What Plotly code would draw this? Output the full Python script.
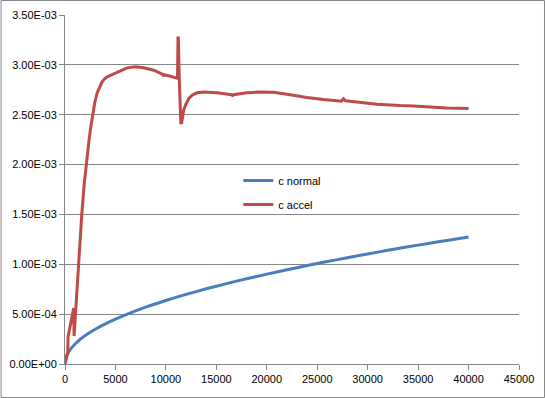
import plotly.graph_objects as go

# ---- data ----
normal_x = [0, 100, 250, 500, 1000, 2000, 3000, 4000, 5000, 6000, 8000, 10000,
            12000, 14000, 16000, 18000, 20000, 22000, 24000, 26000, 28000,
            30000, 32000, 34000, 36000, 38000, 40000]
normal_y = [0, 6.4e-5, 1.0e-4, 1.42e-4, 2.01e-4, 2.85e-4, 3.49e-4, 4.03e-4,
            4.50e-4, 4.93e-4, 5.70e-4, 6.37e-4, 6.98e-4, 7.54e-4, 8.06e-4,
            8.55e-4, 9.01e-4, 9.45e-4, 9.87e-4, 1.027e-3, 1.066e-3, 1.104e-3,
            1.140e-3, 1.175e-3, 1.209e-3, 1.242e-3, 1.274e-3]

accel_x = [0, 150, 280, 300, 400, 600, 820, 860, 900, 1000, 1150, 1366, 1663,
           1900, 2096, 2250, 2400, 2560, 2757, 2950, 3190, 3420, 3680, 3930,
           4180, 4500, 4830, 5500, 6160, 6980, 7800,
           8790, 9700, 9780, 9850, 10450, 11150, 11200, 11230, 11330, 11480,
           11560, 11760, 12000, 12260, 12650, 13090, 13740, 15070, 16500,
           16600, 16700, 18040, 19360, 20670, 22330, 23980, 25620, 27400,
           27600, 27800, 28930, 30910, 33220, 34530, 37840, 40000]
accel_y = [0, 7.5e-5, 1.2e-4, 2.7e-4, 3.2e-4, 4.2e-4, 5.5e-4, 5.6e-4, 2.8e-4,
           4.5e-4, 7.5e-4, 1.0e-3, 1.5e-3, 1.8e-3, 2.0e-3, 2.14e-3, 2.26e-3,
           2.38e-3, 2.5e-3, 2.62e-3, 2.72e-3, 2.78e-3, 2.83e-3, 2.86e-3,
           2.88e-3, 2.895e-3, 2.91e-3, 2.946e-3, 2.97e-3, 2.98e-3, 2.97e-3,
           2.946e-3, 2.905e-3, 2.888e-3, 2.90e-3, 2.886e-3, 2.865e-3, 3.27e-3,
           3.27e-3, 2.85e-3, 2.42e-3, 2.42e-3, 2.545e-3, 2.61e-3, 2.66e-3,
           2.70e-3, 2.72e-3, 2.728e-3, 2.72e-3, 2.70e-3, 2.693e-3, 2.70e-3,
           2.72e-3, 2.728e-3, 2.725e-3, 2.70e-3, 2.672e-3, 2.652e-3,
           2.635e-3, 2.66e-3, 2.64e-3, 2.628e-3, 2.605e-3, 2.592e-3,
           2.588e-3, 2.568e-3, 2.562e-3]

y_tickvals = [0, 0.0005, 0.001, 0.0015, 0.002, 0.0025, 0.003, 0.0035]
y_ticktext = ["0.00E+00", "5.00E-04", "1.00E-03", "1.50E-03", "2.00E-03",
              "2.50E-03", "3.00E-03", "3.50E-03"]
x_tickvals = [0, 5000, 10000, 15000, 20000, 25000, 30000, 35000, 40000, 45000]
x_ticktext = ["0", "5000", "10000", "15000", "20000", "25000", "30000",
              "35000", "40000", "45000"]

W, H = 545, 398
ML, MR, MT, MB = 64.5, 26, 15, 34
PW, PH = W - ML - MR, H - MT - MB

fig = go.Figure()
fig.add_trace(go.Scatter(x=normal_x, y=normal_y, mode="lines", name="c normal",
                         line=dict(color="#4A7EBB", width=3, shape="spline",
                                   smoothing=0.6),
                         legendgroup="a"))
fig.add_trace(go.Scatter(x=accel_x, y=accel_y, mode="lines", name="c accel",
                         line=dict(color="#BE4B48", width=3),
                         legendgroup="b"))

grid = "#868686"
fig.update_layout(
    width=W, height=H,
    margin=dict(l=ML, r=MR, t=MT, b=MB, pad=0, autoexpand=False),
    paper_bgcolor="white", plot_bgcolor="white",
    font=dict(family="Liberation Sans", size=11, color="#000000"),
    showlegend=True,
    legend=dict(x=(238 - ML) / PW, y=(364 - 166) / PH, xanchor="left",
                yanchor="top", bgcolor="rgba(0,0,0,0)",
                traceorder="grouped", tracegroupgap=5,
                font=dict(size=11)),
    xaxis=dict(range=[0, 45000], tickvals=x_tickvals, ticktext=x_ticktext,
               showgrid=False, automargin=False,
               showline=True, linecolor=grid, linewidth=1, ticks="outside",
               ticklen=5, tickcolor=grid, zeroline=False, fixedrange=True),
    yaxis=dict(range=[0, 0.0035], tickvals=y_tickvals, ticktext=y_ticktext,
               showgrid=True, gridcolor=grid, gridwidth=1, showline=True,
               automargin=False,
               linecolor=grid, linewidth=1, ticks="outside", ticklen=5,
               tickcolor=grid, zeroline=False, fixedrange=True),
    shapes=[dict(type="rect", xref="paper", yref="paper",
                 x0=(0.5 - ML) / PW, x1=(W - 0.5 - ML) / PW,
                 y0=-(MB - 0.5) / PH, y1=1 + (MT - 0.5) / PH,
                 line=dict(color="#868686", width=1))],
)

fig.write_html("out.html",
               config={"displayModeBar": False, "staticPlot": True},
               post_script="document.body.style.margin='0';"
                           "document.body.style.overflow='hidden';")
